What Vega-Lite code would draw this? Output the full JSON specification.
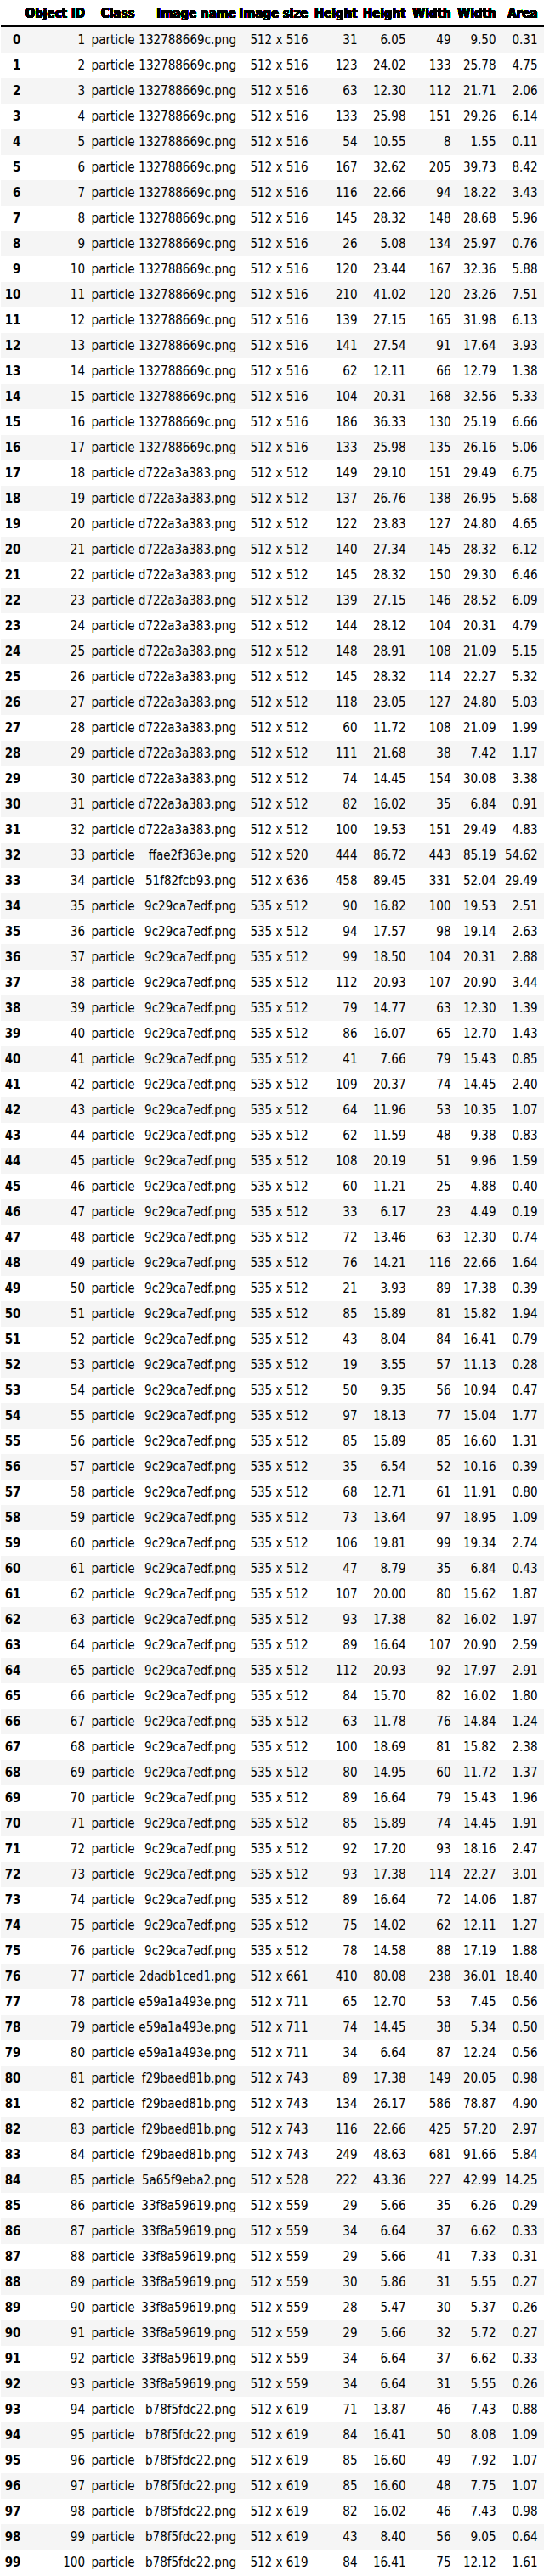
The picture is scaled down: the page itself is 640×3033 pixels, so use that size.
{
  "$schema": "https://vega.github.io/schema/vega-lite/v6.json",
  "width": 640,
  "height": 3033,
  "autosize": {"type": "fit", "contains": "padding"},
  "padding": 0,
  "background": "white",
  "config": {"view": {"stroke": null}, "text": {"font": "'Liberation Sans Narrow', 'Arial Narrow', 'DejaVu Sans Condensed', 'Liberation Sans', sans-serif", "fontSize": 15, "color": "#000000", "align": "right", "baseline": "middle"}},
  "data": {"values": [
    {"i":0,"id":1,"c":"particle","img":"132788669c.png","s":"512 x 516","h":31,"hm":6.05,"w":49,"wm":9.50,"a":0.31},
    {"i":1,"id":2,"c":"particle","img":"132788669c.png","s":"512 x 516","h":123,"hm":24.02,"w":133,"wm":25.78,"a":4.75},
    {"i":2,"id":3,"c":"particle","img":"132788669c.png","s":"512 x 516","h":63,"hm":12.30,"w":112,"wm":21.71,"a":2.06},
    {"i":3,"id":4,"c":"particle","img":"132788669c.png","s":"512 x 516","h":133,"hm":25.98,"w":151,"wm":29.26,"a":6.14},
    {"i":4,"id":5,"c":"particle","img":"132788669c.png","s":"512 x 516","h":54,"hm":10.55,"w":8,"wm":1.55,"a":0.11},
    {"i":5,"id":6,"c":"particle","img":"132788669c.png","s":"512 x 516","h":167,"hm":32.62,"w":205,"wm":39.73,"a":8.42},
    {"i":6,"id":7,"c":"particle","img":"132788669c.png","s":"512 x 516","h":116,"hm":22.66,"w":94,"wm":18.22,"a":3.43},
    {"i":7,"id":8,"c":"particle","img":"132788669c.png","s":"512 x 516","h":145,"hm":28.32,"w":148,"wm":28.68,"a":5.96},
    {"i":8,"id":9,"c":"particle","img":"132788669c.png","s":"512 x 516","h":26,"hm":5.08,"w":134,"wm":25.97,"a":0.76},
    {"i":9,"id":10,"c":"particle","img":"132788669c.png","s":"512 x 516","h":120,"hm":23.44,"w":167,"wm":32.36,"a":5.88},
    {"i":10,"id":11,"c":"particle","img":"132788669c.png","s":"512 x 516","h":210,"hm":41.02,"w":120,"wm":23.26,"a":7.51},
    {"i":11,"id":12,"c":"particle","img":"132788669c.png","s":"512 x 516","h":139,"hm":27.15,"w":165,"wm":31.98,"a":6.13},
    {"i":12,"id":13,"c":"particle","img":"132788669c.png","s":"512 x 516","h":141,"hm":27.54,"w":91,"wm":17.64,"a":3.93},
    {"i":13,"id":14,"c":"particle","img":"132788669c.png","s":"512 x 516","h":62,"hm":12.11,"w":66,"wm":12.79,"a":1.38},
    {"i":14,"id":15,"c":"particle","img":"132788669c.png","s":"512 x 516","h":104,"hm":20.31,"w":168,"wm":32.56,"a":5.33},
    {"i":15,"id":16,"c":"particle","img":"132788669c.png","s":"512 x 516","h":186,"hm":36.33,"w":130,"wm":25.19,"a":6.66},
    {"i":16,"id":17,"c":"particle","img":"132788669c.png","s":"512 x 516","h":133,"hm":25.98,"w":135,"wm":26.16,"a":5.06},
    {"i":17,"id":18,"c":"particle","img":"d722a3a383.png","s":"512 x 512","h":149,"hm":29.10,"w":151,"wm":29.49,"a":6.75},
    {"i":18,"id":19,"c":"particle","img":"d722a3a383.png","s":"512 x 512","h":137,"hm":26.76,"w":138,"wm":26.95,"a":5.68},
    {"i":19,"id":20,"c":"particle","img":"d722a3a383.png","s":"512 x 512","h":122,"hm":23.83,"w":127,"wm":24.80,"a":4.65},
    {"i":20,"id":21,"c":"particle","img":"d722a3a383.png","s":"512 x 512","h":140,"hm":27.34,"w":145,"wm":28.32,"a":6.12},
    {"i":21,"id":22,"c":"particle","img":"d722a3a383.png","s":"512 x 512","h":145,"hm":28.32,"w":150,"wm":29.30,"a":6.46},
    {"i":22,"id":23,"c":"particle","img":"d722a3a383.png","s":"512 x 512","h":139,"hm":27.15,"w":146,"wm":28.52,"a":6.09},
    {"i":23,"id":24,"c":"particle","img":"d722a3a383.png","s":"512 x 512","h":144,"hm":28.12,"w":104,"wm":20.31,"a":4.79},
    {"i":24,"id":25,"c":"particle","img":"d722a3a383.png","s":"512 x 512","h":148,"hm":28.91,"w":108,"wm":21.09,"a":5.15},
    {"i":25,"id":26,"c":"particle","img":"d722a3a383.png","s":"512 x 512","h":145,"hm":28.32,"w":114,"wm":22.27,"a":5.32},
    {"i":26,"id":27,"c":"particle","img":"d722a3a383.png","s":"512 x 512","h":118,"hm":23.05,"w":127,"wm":24.80,"a":5.03},
    {"i":27,"id":28,"c":"particle","img":"d722a3a383.png","s":"512 x 512","h":60,"hm":11.72,"w":108,"wm":21.09,"a":1.99},
    {"i":28,"id":29,"c":"particle","img":"d722a3a383.png","s":"512 x 512","h":111,"hm":21.68,"w":38,"wm":7.42,"a":1.17},
    {"i":29,"id":30,"c":"particle","img":"d722a3a383.png","s":"512 x 512","h":74,"hm":14.45,"w":154,"wm":30.08,"a":3.38},
    {"i":30,"id":31,"c":"particle","img":"d722a3a383.png","s":"512 x 512","h":82,"hm":16.02,"w":35,"wm":6.84,"a":0.91},
    {"i":31,"id":32,"c":"particle","img":"d722a3a383.png","s":"512 x 512","h":100,"hm":19.53,"w":151,"wm":29.49,"a":4.83},
    {"i":32,"id":33,"c":"particle","img":"ffae2f363e.png","s":"512 x 520","h":444,"hm":86.72,"w":443,"wm":85.19,"a":54.62},
    {"i":33,"id":34,"c":"particle","img":"51f82fcb93.png","s":"512 x 636","h":458,"hm":89.45,"w":331,"wm":52.04,"a":29.49},
    {"i":34,"id":35,"c":"particle","img":"9c29ca7edf.png","s":"535 x 512","h":90,"hm":16.82,"w":100,"wm":19.53,"a":2.51},
    {"i":35,"id":36,"c":"particle","img":"9c29ca7edf.png","s":"535 x 512","h":94,"hm":17.57,"w":98,"wm":19.14,"a":2.63},
    {"i":36,"id":37,"c":"particle","img":"9c29ca7edf.png","s":"535 x 512","h":99,"hm":18.50,"w":104,"wm":20.31,"a":2.88},
    {"i":37,"id":38,"c":"particle","img":"9c29ca7edf.png","s":"535 x 512","h":112,"hm":20.93,"w":107,"wm":20.90,"a":3.44},
    {"i":38,"id":39,"c":"particle","img":"9c29ca7edf.png","s":"535 x 512","h":79,"hm":14.77,"w":63,"wm":12.30,"a":1.39},
    {"i":39,"id":40,"c":"particle","img":"9c29ca7edf.png","s":"535 x 512","h":86,"hm":16.07,"w":65,"wm":12.70,"a":1.43},
    {"i":40,"id":41,"c":"particle","img":"9c29ca7edf.png","s":"535 x 512","h":41,"hm":7.66,"w":79,"wm":15.43,"a":0.85},
    {"i":41,"id":42,"c":"particle","img":"9c29ca7edf.png","s":"535 x 512","h":109,"hm":20.37,"w":74,"wm":14.45,"a":2.40},
    {"i":42,"id":43,"c":"particle","img":"9c29ca7edf.png","s":"535 x 512","h":64,"hm":11.96,"w":53,"wm":10.35,"a":1.07},
    {"i":43,"id":44,"c":"particle","img":"9c29ca7edf.png","s":"535 x 512","h":62,"hm":11.59,"w":48,"wm":9.38,"a":0.83},
    {"i":44,"id":45,"c":"particle","img":"9c29ca7edf.png","s":"535 x 512","h":108,"hm":20.19,"w":51,"wm":9.96,"a":1.59},
    {"i":45,"id":46,"c":"particle","img":"9c29ca7edf.png","s":"535 x 512","h":60,"hm":11.21,"w":25,"wm":4.88,"a":0.40},
    {"i":46,"id":47,"c":"particle","img":"9c29ca7edf.png","s":"535 x 512","h":33,"hm":6.17,"w":23,"wm":4.49,"a":0.19},
    {"i":47,"id":48,"c":"particle","img":"9c29ca7edf.png","s":"535 x 512","h":72,"hm":13.46,"w":63,"wm":12.30,"a":0.74},
    {"i":48,"id":49,"c":"particle","img":"9c29ca7edf.png","s":"535 x 512","h":76,"hm":14.21,"w":116,"wm":22.66,"a":1.64},
    {"i":49,"id":50,"c":"particle","img":"9c29ca7edf.png","s":"535 x 512","h":21,"hm":3.93,"w":89,"wm":17.38,"a":0.39},
    {"i":50,"id":51,"c":"particle","img":"9c29ca7edf.png","s":"535 x 512","h":85,"hm":15.89,"w":81,"wm":15.82,"a":1.94},
    {"i":51,"id":52,"c":"particle","img":"9c29ca7edf.png","s":"535 x 512","h":43,"hm":8.04,"w":84,"wm":16.41,"a":0.79},
    {"i":52,"id":53,"c":"particle","img":"9c29ca7edf.png","s":"535 x 512","h":19,"hm":3.55,"w":57,"wm":11.13,"a":0.28},
    {"i":53,"id":54,"c":"particle","img":"9c29ca7edf.png","s":"535 x 512","h":50,"hm":9.35,"w":56,"wm":10.94,"a":0.47},
    {"i":54,"id":55,"c":"particle","img":"9c29ca7edf.png","s":"535 x 512","h":97,"hm":18.13,"w":77,"wm":15.04,"a":1.77},
    {"i":55,"id":56,"c":"particle","img":"9c29ca7edf.png","s":"535 x 512","h":85,"hm":15.89,"w":85,"wm":16.60,"a":1.31},
    {"i":56,"id":57,"c":"particle","img":"9c29ca7edf.png","s":"535 x 512","h":35,"hm":6.54,"w":52,"wm":10.16,"a":0.39},
    {"i":57,"id":58,"c":"particle","img":"9c29ca7edf.png","s":"535 x 512","h":68,"hm":12.71,"w":61,"wm":11.91,"a":0.80},
    {"i":58,"id":59,"c":"particle","img":"9c29ca7edf.png","s":"535 x 512","h":73,"hm":13.64,"w":97,"wm":18.95,"a":1.09},
    {"i":59,"id":60,"c":"particle","img":"9c29ca7edf.png","s":"535 x 512","h":106,"hm":19.81,"w":99,"wm":19.34,"a":2.74},
    {"i":60,"id":61,"c":"particle","img":"9c29ca7edf.png","s":"535 x 512","h":47,"hm":8.79,"w":35,"wm":6.84,"a":0.43},
    {"i":61,"id":62,"c":"particle","img":"9c29ca7edf.png","s":"535 x 512","h":107,"hm":20.00,"w":80,"wm":15.62,"a":1.87},
    {"i":62,"id":63,"c":"particle","img":"9c29ca7edf.png","s":"535 x 512","h":93,"hm":17.38,"w":82,"wm":16.02,"a":1.97},
    {"i":63,"id":64,"c":"particle","img":"9c29ca7edf.png","s":"535 x 512","h":89,"hm":16.64,"w":107,"wm":20.90,"a":2.59},
    {"i":64,"id":65,"c":"particle","img":"9c29ca7edf.png","s":"535 x 512","h":112,"hm":20.93,"w":92,"wm":17.97,"a":2.91},
    {"i":65,"id":66,"c":"particle","img":"9c29ca7edf.png","s":"535 x 512","h":84,"hm":15.70,"w":82,"wm":16.02,"a":1.80},
    {"i":66,"id":67,"c":"particle","img":"9c29ca7edf.png","s":"535 x 512","h":63,"hm":11.78,"w":76,"wm":14.84,"a":1.24},
    {"i":67,"id":68,"c":"particle","img":"9c29ca7edf.png","s":"535 x 512","h":100,"hm":18.69,"w":81,"wm":15.82,"a":2.38},
    {"i":68,"id":69,"c":"particle","img":"9c29ca7edf.png","s":"535 x 512","h":80,"hm":14.95,"w":60,"wm":11.72,"a":1.37},
    {"i":69,"id":70,"c":"particle","img":"9c29ca7edf.png","s":"535 x 512","h":89,"hm":16.64,"w":79,"wm":15.43,"a":1.96},
    {"i":70,"id":71,"c":"particle","img":"9c29ca7edf.png","s":"535 x 512","h":85,"hm":15.89,"w":74,"wm":14.45,"a":1.91},
    {"i":71,"id":72,"c":"particle","img":"9c29ca7edf.png","s":"535 x 512","h":92,"hm":17.20,"w":93,"wm":18.16,"a":2.47},
    {"i":72,"id":73,"c":"particle","img":"9c29ca7edf.png","s":"535 x 512","h":93,"hm":17.38,"w":114,"wm":22.27,"a":3.01},
    {"i":73,"id":74,"c":"particle","img":"9c29ca7edf.png","s":"535 x 512","h":89,"hm":16.64,"w":72,"wm":14.06,"a":1.87},
    {"i":74,"id":75,"c":"particle","img":"9c29ca7edf.png","s":"535 x 512","h":75,"hm":14.02,"w":62,"wm":12.11,"a":1.27},
    {"i":75,"id":76,"c":"particle","img":"9c29ca7edf.png","s":"535 x 512","h":78,"hm":14.58,"w":88,"wm":17.19,"a":1.88},
    {"i":76,"id":77,"c":"particle","img":"2dadb1ced1.png","s":"512 x 661","h":410,"hm":80.08,"w":238,"wm":36.01,"a":18.40},
    {"i":77,"id":78,"c":"particle","img":"e59a1a493e.png","s":"512 x 711","h":65,"hm":12.70,"w":53,"wm":7.45,"a":0.56},
    {"i":78,"id":79,"c":"particle","img":"e59a1a493e.png","s":"512 x 711","h":74,"hm":14.45,"w":38,"wm":5.34,"a":0.50},
    {"i":79,"id":80,"c":"particle","img":"e59a1a493e.png","s":"512 x 711","h":34,"hm":6.64,"w":87,"wm":12.24,"a":0.56},
    {"i":80,"id":81,"c":"particle","img":"f29baed81b.png","s":"512 x 743","h":89,"hm":17.38,"w":149,"wm":20.05,"a":0.98},
    {"i":81,"id":82,"c":"particle","img":"f29baed81b.png","s":"512 x 743","h":134,"hm":26.17,"w":586,"wm":78.87,"a":4.90},
    {"i":82,"id":83,"c":"particle","img":"f29baed81b.png","s":"512 x 743","h":116,"hm":22.66,"w":425,"wm":57.20,"a":2.97},
    {"i":83,"id":84,"c":"particle","img":"f29baed81b.png","s":"512 x 743","h":249,"hm":48.63,"w":681,"wm":91.66,"a":5.84},
    {"i":84,"id":85,"c":"particle","img":"5a65f9eba2.png","s":"512 x 528","h":222,"hm":43.36,"w":227,"wm":42.99,"a":14.25},
    {"i":85,"id":86,"c":"particle","img":"33f8a59619.png","s":"512 x 559","h":29,"hm":5.66,"w":35,"wm":6.26,"a":0.29},
    {"i":86,"id":87,"c":"particle","img":"33f8a59619.png","s":"512 x 559","h":34,"hm":6.64,"w":37,"wm":6.62,"a":0.33},
    {"i":87,"id":88,"c":"particle","img":"33f8a59619.png","s":"512 x 559","h":29,"hm":5.66,"w":41,"wm":7.33,"a":0.31},
    {"i":88,"id":89,"c":"particle","img":"33f8a59619.png","s":"512 x 559","h":30,"hm":5.86,"w":31,"wm":5.55,"a":0.27},
    {"i":89,"id":90,"c":"particle","img":"33f8a59619.png","s":"512 x 559","h":28,"hm":5.47,"w":30,"wm":5.37,"a":0.26},
    {"i":90,"id":91,"c":"particle","img":"33f8a59619.png","s":"512 x 559","h":29,"hm":5.66,"w":32,"wm":5.72,"a":0.27},
    {"i":91,"id":92,"c":"particle","img":"33f8a59619.png","s":"512 x 559","h":34,"hm":6.64,"w":37,"wm":6.62,"a":0.33},
    {"i":92,"id":93,"c":"particle","img":"33f8a59619.png","s":"512 x 559","h":34,"hm":6.64,"w":31,"wm":5.55,"a":0.26},
    {"i":93,"id":94,"c":"particle","img":"b78f5fdc22.png","s":"512 x 619","h":71,"hm":13.87,"w":46,"wm":7.43,"a":0.88},
    {"i":94,"id":95,"c":"particle","img":"b78f5fdc22.png","s":"512 x 619","h":84,"hm":16.41,"w":50,"wm":8.08,"a":1.09},
    {"i":95,"id":96,"c":"particle","img":"b78f5fdc22.png","s":"512 x 619","h":85,"hm":16.60,"w":49,"wm":7.92,"a":1.07},
    {"i":96,"id":97,"c":"particle","img":"b78f5fdc22.png","s":"512 x 619","h":85,"hm":16.60,"w":48,"wm":7.75,"a":1.07},
    {"i":97,"id":98,"c":"particle","img":"b78f5fdc22.png","s":"512 x 619","h":82,"hm":16.02,"w":46,"wm":7.43,"a":0.98},
    {"i":98,"id":99,"c":"particle","img":"b78f5fdc22.png","s":"512 x 619","h":43,"hm":8.40,"w":56,"wm":9.05,"a":0.64},
    {"i":99,"id":100,"c":"particle","img":"b78f5fdc22.png","s":"512 x 619","h":84,"hm":16.41,"w":75,"wm":12.12,"a":1.61}
  ]},
  "encoding": {
    "y": {"field": "i", "type": "quantitative", "axis": null, "scale": {"domain": [-1.5667, 99.5333], "reverse": true, "zero": false, "nice": false}}
  },
  "layer": [
    {
      "transform": [{"filter": "datum.i % 2 == 0"}, {"calculate": "datum.i - 0.5", "as": "y0"}, {"calculate": "datum.i + 0.5", "as": "y1"}],
      "mark": {"type": "rect", "color": "#f5f5f5"},
      "encoding": {"x": {"value": 0}, "x2": {"value": 640}, "y": {"field": "y0", "type": "quantitative"}, "y2": {"field": "y1"}}
    },
    {"mark": {"type": "rule", "color": "#000000", "strokeWidth": 1}, "encoding": {"y": {"datum": -0.52, "type": "quantitative"}, "x": {"value": 0}, "x2": {"value": 640}}},
    {"mark": {"type": "text", "fontWeight": "bold"}, "encoding": {"x": {"value": 23.5}, "text": {"field": "i"}}},
    {"mark": {"type": "text"}, "encoding": {"x": {"value": 99}, "text": {"field": "id"}}},
    {"mark": {"type": "text"}, "encoding": {"x": {"value": 157.5}, "text": {"field": "c"}}},
    {"mark": {"type": "text"}, "encoding": {"x": {"value": 277}, "text": {"field": "img"}}},
    {"mark": {"type": "text"}, "encoding": {"x": {"value": 361.5}, "text": {"field": "s"}}},
    {"mark": {"type": "text"}, "encoding": {"x": {"value": 419.5}, "text": {"field": "h"}}},
    {"mark": {"type": "text"}, "encoding": {"x": {"value": 476.5}, "text": {"field": "hm", "format": ".2f"}}},
    {"mark": {"type": "text"}, "encoding": {"x": {"value": 529.5}, "text": {"field": "w"}}},
    {"mark": {"type": "text"}, "encoding": {"x": {"value": 582.5}, "text": {"field": "wm", "format": ".2f"}}},
    {"mark": {"type": "text"}, "encoding": {"x": {"value": 631.5}, "text": {"field": "a", "format": ".2f"}}},
    {"mark": {"type": "text", "fontWeight": "bold", "text": "Object ID"}, "encoding": {"x": {"value": 99}, "y": {"datum": -1.033, "type": "quantitative"}}},
    {"mark": {"type": "text", "fontWeight": "bold", "text": "Class"}, "encoding": {"x": {"value": 157.5}, "y": {"datum": -1.033, "type": "quantitative"}}},
    {"mark": {"type": "text", "fontWeight": "bold", "text": "Image name"}, "encoding": {"x": {"value": 277}, "y": {"datum": -1.033, "type": "quantitative"}}},
    {"mark": {"type": "text", "fontWeight": "bold", "text": "Image size"}, "encoding": {"x": {"value": 361.5}, "y": {"datum": -1.033, "type": "quantitative"}}},
    {"mark": {"type": "text", "fontWeight": "bold", "text": "Height"}, "encoding": {"x": {"value": 419.5}, "y": {"datum": -1.033, "type": "quantitative"}}},
    {"mark": {"type": "text", "fontWeight": "bold", "text": "Height"}, "encoding": {"x": {"value": 476.5}, "y": {"datum": -1.033, "type": "quantitative"}}},
    {"mark": {"type": "text", "fontWeight": "bold", "text": "Width"}, "encoding": {"x": {"value": 529.5}, "y": {"datum": -1.033, "type": "quantitative"}}},
    {"mark": {"type": "text", "fontWeight": "bold", "text": "Width"}, "encoding": {"x": {"value": 582.5}, "y": {"datum": -1.033, "type": "quantitative"}}},
    {"mark": {"type": "text", "fontWeight": "bold", "text": "Area"}, "encoding": {"x": {"value": 631.5}, "y": {"datum": -1.033, "type": "quantitative"}}}
  ]
}
